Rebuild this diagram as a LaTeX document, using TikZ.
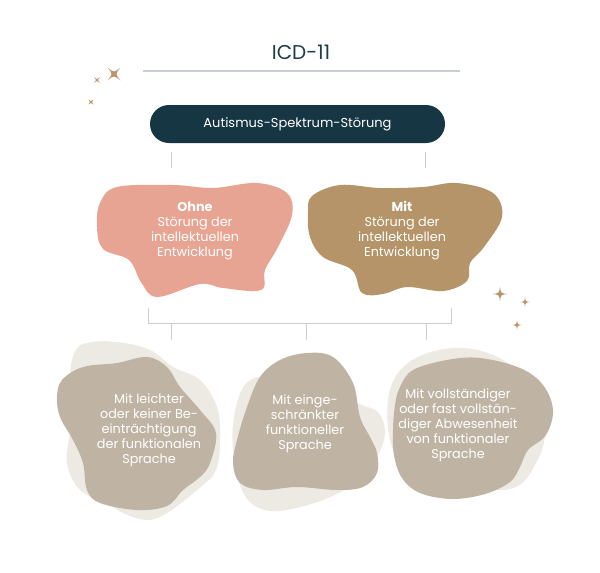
\documentclass[tikz,border=0pt]{standalone}
\usepackage{fontspec}
\setmainfont{Poppins}
\definecolor{navy}{HTML}{173644}
\definecolor{titlec}{HTML}{1C3D4A}
\definecolor{linec}{HTML}{C9CED2}
\definecolor{pinkc}{HTML}{E8A493}
\definecolor{brownc}{HTML}{B49468}
\definecolor{taupe}{HTML}{BFB4A4}
\definecolor{paleb}{HTML}{EDE9E3}
\definecolor{sparkc}{HTML}{B8966A}
\tikzset{
  conn/.style={draw=linec, line width=1pt},
  blobtext/.style={text=white, align=center, font=\fontsize{12.8}{15}\selectfont},
  spark/.pic={\fill[sparkc] (0,1) .. controls (0.1,0.1) .. (1,0) .. controls (0.1,-0.1) .. (0,-1) .. controls (-0.1,-0.1) .. (-1,0) .. controls (-0.1,0.1) .. cycle;}
}
\begin{document}
\begin{tikzpicture}[x=1pt,y=-1pt]
\useasboundingbox[fill=white] (0,0) rectangle (600,573);
% title
\node[text=titlec, font=\fontsize{20}{24}\selectfont] (title) at (301,52) {ICD-11};
\draw[draw=linec, line width=2pt] (143,71) -- (460,71);
% pill
\node[fill=navy, rounded corners=19pt, minimum width=295pt, minimum height=38pt, text=white, font=\fontsize{13}{15}\selectfont] (asd) at (297.5,124) {Autismus-Spektrum-Störung};
\coordinate (l1a) at (171,152); \coordinate (l1b) at (171,168);
\coordinate (r1a) at (425,152); \coordinate (r1b) at (425,168);
\draw[conn] (l1a) -- (l1b);
\draw[conn] (r1a) -- (r1b);
% pink blob
\fill[pinkc] plot[smooth cycle, tension=0.6] coordinates {(117,187) (173,185) (213,188) (257,183) (287,193) (292,215) (278,247) (265,270) (261,290) (223,288) (200,284) (157,297) (141,282) (129,260) (103,249) (97,227) (100,203)};
\node[blobtext] (ohne) at (195,231) {\textbf{Ohne}\\Störung der\\intellektuellen\\Entwicklung};
% brown blob
\fill[brownc] plot[smooth cycle, tension=0.6] coordinates {(312,196) (340,185) (380,188) (423,187) (457,183) (493,193) (502,217) (484,247) (470,263) (467,281) (443,291) (407,287) (383,294) (362,293) (352,270) (323,257) (310,237) (308,213)};
\node[blobtext] (mit) at (402,231) {\textbf{Mit}\\Störung der\\intellektuellen\\Entwicklung};
% bracket
\coordinate (bl) at (148,308); \coordinate (br) at (451,308);
\draw[conn] (bl) -- (148,323) -- (451,323) -- (br);
\coordinate (d1a) at (171,323); \coordinate (d1b) at (171,340);
\coordinate (d2a) at (306,323); \coordinate (d2b) at (306,340);
\coordinate (d3a) at (426,323); \coordinate (d3b) at (426,340);
\draw[conn] (d1a) -- (d1b);
\draw[conn] (d2a) -- (d2b);
\draw[conn] (d3a) -- (d3b);
% bottom left blob
\fill[paleb] plot[smooth cycle, tension=0.6] coordinates {(83,344) (117,342) (150,350) (173,367) (200,380) (217,407) (220,437) (216,470) (197,490) (167,513) (147,520) (123,513) (107,503) (80,490) (67,463) (70,430) (70,390) (72,360)};
\fill[taupe] plot[smooth cycle, tension=0.6] coordinates {(62,380) (83,367) (117,363) (147,357) (167,367) (180,387) (200,410) (216,433) (210,463) (200,477) (183,490) (167,506) (137,510) (100,503) (87,490) (83,463) (73,440) (60,417) (57,397)};
\node[blobtext] (b1) at (149,430) {Mit leichter\\oder keiner Be-\\einträchtigung\\der funktionalen\\Sprache};
% bottom middle blob
\fill[paleb] plot[smooth cycle, tension=0.6] coordinates {(245,385) (275,375) (330,380) (358,403) (378,412) (385,432) (378,455) (360,480) (330,497) (300,507) (270,511) (248,500) (236,470) (233,425)};
\fill[taupe] plot[smooth cycle, tension=0.6] coordinates {(280,360) (307,353) (333,357) (353,383) (360,417) (370,437) (377,453) (377,473) (363,487) (337,490) (297,487) (263,490) (240,483) (233,463) (237,440) (247,407) (260,377)};
\node[blobtext] (b2) at (305,424) {Mit einge-\\schränkter\\funktioneller\\Sprache};
% bottom right blob
\fill[paleb] plot[smooth cycle, tension=0.6] coordinates {(388,400) (398,373) (420,356) (453,348) (485,352) (515,368) (540,395) (545,435) (535,465) (518,486) (490,490) (440,485) (405,470) (390,440)};
\fill[taupe] plot[smooth cycle, tension=0.6] coordinates {(400,387) (413,370) (447,360) (480,358) (520,368) (543,385) (553,410) (546,435) (528,450) (520,467) (510,482) (485,494) (452,499) (420,493) (402,478) (394,455) (393,430) (395,405)};
\node[blobtext] (b3) at (458,425) {Mit vollständiger\\oder fast vollstän-\\diger Abwesenheit\\von funktionaler\\Sprache};
% sparkles
\pic[rotate=45, scale=9] at (114,74) {spark};
\pic[rotate=45, scale=4] at (97,80) {spark};
\pic[rotate=45, scale=3.5] at (91,102) {spark};
\pic[scale=7.5] at (500,294) {spark};
\pic[scale=5] at (525,302) {spark};
\pic[scale=5] at (517,325) {spark};
\end{tikzpicture}
\end{document}
